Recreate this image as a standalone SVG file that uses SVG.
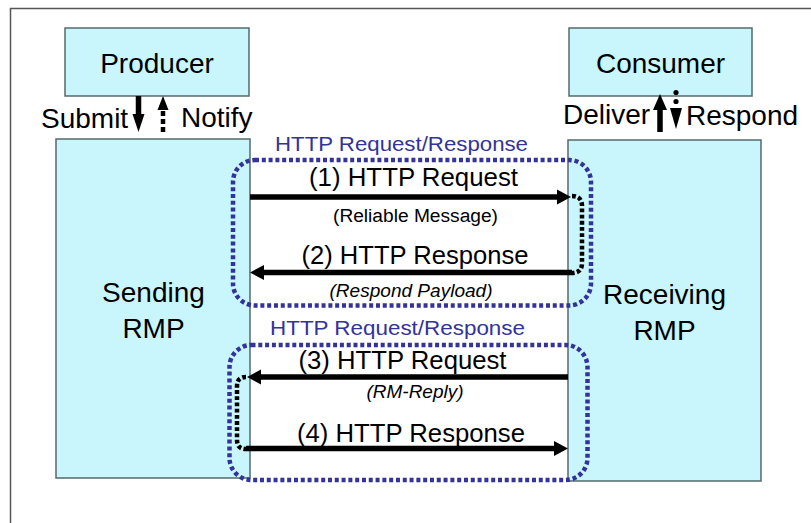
<svg xmlns="http://www.w3.org/2000/svg" width="811" height="523" viewBox="0 0 811 523">
<style>
.box{fill:#C8F6FC;stroke:#55696b;stroke-width:1.5}
.t{font-family:"Liberation Sans",Arial,sans-serif;fill:#000}
.big{font-size:28px}
.mid{font-size:26px}
.sm{font-size:18px}
.blue{font-family:"Liberation Sans",Arial,sans-serif;font-size:21px;fill:#333399}
.grp{fill:none;stroke:#333399;stroke-width:4.5;stroke-dasharray:4 2.8}
.solid{stroke:#000;stroke-width:5.5;fill:none}
.dash{stroke:#000;stroke-width:4.5;fill:none;stroke-dasharray:3.8 2.4}
.head{fill:#000}
</style>
<rect x="0" y="0" width="811" height="523" fill="#fff"/>
<path d="M10.5 523 L10.5 8.5 L811 8.5" fill="none" stroke="#555" stroke-width="1.5"/>

<g id="producer">
<rect class="box" x="65" y="28" width="184" height="68"/>
<text class="t big" x="157" y="73" text-anchor="middle">Producer</text>
</g>
<g id="consumer">
<rect class="box" x="569" y="28" width="183" height="68"/>
<text class="t big" x="660.5" y="73" text-anchor="middle">Consumer</text>
</g>
<g id="sending-rmp">
<rect class="box" x="56" y="139" width="194" height="339"/>
<text class="t big" x="153.5" y="302" text-anchor="middle">Sending</text>
<text class="t big" x="153.5" y="338" text-anchor="middle">RMP</text>
</g>
<g id="receiving-rmp">
<rect class="box" x="568" y="140" width="193" height="341"/>
<text class="t big" x="664.5" y="304" text-anchor="middle">Receiving</text>
<text class="t big" x="664.5" y="340" text-anchor="middle">RMP</text>
</g>

<g id="exchange-1">
<rect class="grp" x="233" y="160" width="358" height="145.5" rx="22" ry="22"/>
<text class="blue" x="401.5" y="151" text-anchor="middle" textLength="253" lengthAdjust="spacingAndGlyphs">HTTP Request/Response</text>
</g>
<g id="exchange-2">
<rect class="grp" x="229.5" y="345" width="358" height="135" rx="22" ry="22"/>
<text class="blue" x="397.5" y="335" text-anchor="middle" textLength="255" lengthAdjust="spacingAndGlyphs">HTTP Request/Response</text>
</g>

<g id="connectors">
<!-- Submit -->
<line class="solid" x1="138.5" y1="96" x2="138.5" y2="116"/>
<polygon class="head" points="132.5,114 144.5,114 138.5,132"/>
<!-- Notify -->
<line x1="163" y1="132" x2="163" y2="109" stroke="#000" stroke-width="4.5" stroke-dasharray="5 3"/>
<polygon class="head" points="157.5,110 168.5,110 163,96"/>
<!-- Deliver -->
<line class="solid" x1="660" y1="132" x2="660" y2="108"/>
<polygon class="head" points="653,110 667,110 660,94"/>
<!-- Respond -->
<circle cx="676" cy="92.5" r="2.6" fill="#000"/>
<circle cx="676" cy="101.5" r="2.6" fill="#000"/>
<polygon class="head" points="670,108 682,108 676,129"/>

<!-- (1) -->
<line class="solid" x1="250" y1="197" x2="559" y2="197"/>
<polygon class="head" points="557,189.5 571,197 557,204.5"/>
<!-- (2) -->
<line class="solid" x1="572" y1="272.5" x2="262" y2="272.5"/>
<polygon class="head" points="264,265 250,272.5 264,280"/>
<!-- (3) -->
<line class="solid" x1="568" y1="377" x2="259" y2="377"/>
<polygon class="head" points="261,369.5 247,377 261,384.5"/>
<!-- (4) -->
<line class="solid" x1="246" y1="448.5" x2="556" y2="448.5"/>
<polygon class="head" points="554,441 568,448.5 554,456"/>

<path class="dash" d="M572 196 Q582 196 582 206 L582 263 Q582 273 572 273"/>
<path class="dash" d="M246 377 Q237 377 237 386 L237 440 Q237 449 246 449"/>
</g>

<g id="labels">
<text class="t big" x="41" y="128">Submit</text>
<text class="t big" x="181" y="127">Notify</text>
<text class="t big" x="563" y="124">Deliver</text>
<text class="t big" x="686" y="125">Respond</text>
<text class="t mid" x="413.5" y="186" text-anchor="middle" textLength="209" lengthAdjust="spacingAndGlyphs">(1) HTTP Request</text>
<text class="t sm" x="415.5" y="222" text-anchor="middle" textLength="165" lengthAdjust="spacingAndGlyphs">(Reliable Message)</text>
<text class="t mid" x="415" y="263.5" text-anchor="middle" textLength="227" lengthAdjust="spacingAndGlyphs">(2) HTTP Response</text>
<text class="t sm" x="411" y="296.5" text-anchor="middle" font-style="italic" textLength="163" lengthAdjust="spacingAndGlyphs">(Respond Payload)</text>
<text class="t mid" x="402.5" y="368.5" text-anchor="middle" textLength="208" lengthAdjust="spacingAndGlyphs">(3) HTTP Request</text>
<text class="t sm" x="415" y="397.5" text-anchor="middle" font-style="italic" textLength="97" lengthAdjust="spacingAndGlyphs">(RM-Reply)</text>
<text class="t mid" x="411" y="441.5" text-anchor="middle" textLength="228" lengthAdjust="spacingAndGlyphs">(4) HTTP Response</text>
</g>
</svg>
